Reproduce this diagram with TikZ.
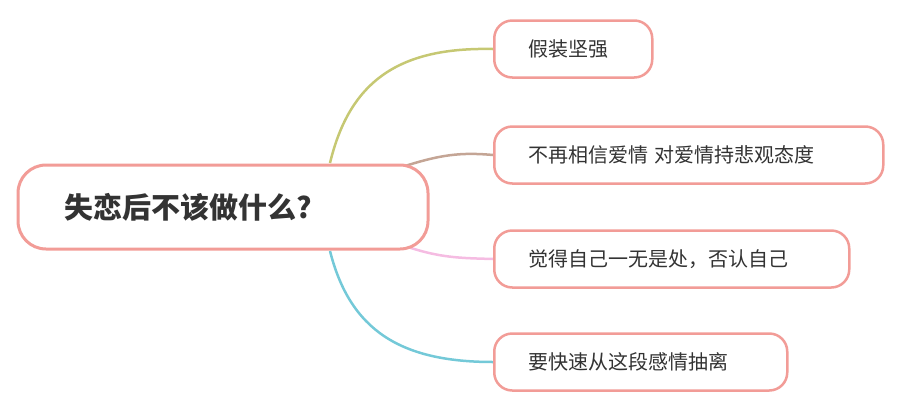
\documentclass[tikz,border=0pt]{standalone}
\usepackage{fontspec}
\setmainfont{Noto Sans CJK SC}
\definecolor{bord}{HTML}{F29C97}
\definecolor{c1}{HTML}{C6C873}
\definecolor{c2}{HTML}{C4A595}
\definecolor{c3}{HTML}{F5BCE2}
\definecolor{c4}{HTML}{74C9D8}
\definecolor{txt}{HTML}{333333}
\tikzset{
 root/.style={draw=bord,line width=3pt,fill=white,rounded corners=28pt,inner xsep=0pt,text width=410pt,align=left,minimum height=84pt,font=\fontsize{29}{34}\selectfont\bfseries,text=txt},
 leaf/.style={draw=bord,line width=2.5pt,fill=white,rounded corners=18pt,inner xsep=0pt,minimum height=57pt,anchor=west,align=left,font=\fontsize{20}{24}\selectfont,text=txt}
}
\begin{document}
\begin{tikzpicture}[x=1pt,y=-1pt]
\useasboundingbox (0,0) rectangle (898,408);
\coordinate (s1) at (330,163);
\coordinate (s2) at (405,166);
\coordinate (s3) at (405,246);
\coordinate (s4) at (330,251);
\coordinate (t1) at (493,49);
\coordinate (t2) at (493,155);
\coordinate (t3) at (493,259);
\coordinate (t4) at (493,362);
\draw[line width=2.5pt,c1] (s1) .. controls (350,80) and (400,47) .. (t1);
\draw[line width=2.5pt,c2] (s2) .. controls (440,155) and (460,152) .. (t2);
\draw[line width=2.5pt,c3] (s3) .. controls (440,258) and (460,258) .. (t3);
\draw[line width=2.5pt,c4] (s4) .. controls (350,330) and (400,362) .. (t4);
\node[root] (c) at (223,207) {\hspace*{47pt}失恋后不该做什么?};
\node[leaf,text width=158pt] (a) at (t1) {\hspace*{34pt}假装坚强};
\node[leaf,text width=389pt] (b) at (t2) {\hspace*{34pt}不再相信爱情 对爱情持悲观态度};
\node[leaf,text width=355pt] (d) at (t3) {\hspace*{34pt}觉得自己一无是处，否认自己};
\node[leaf,text width=293pt] (e) at (t4) {\hspace*{34pt}要快速从这段感情抽离};
\end{tikzpicture}
\end{document}
